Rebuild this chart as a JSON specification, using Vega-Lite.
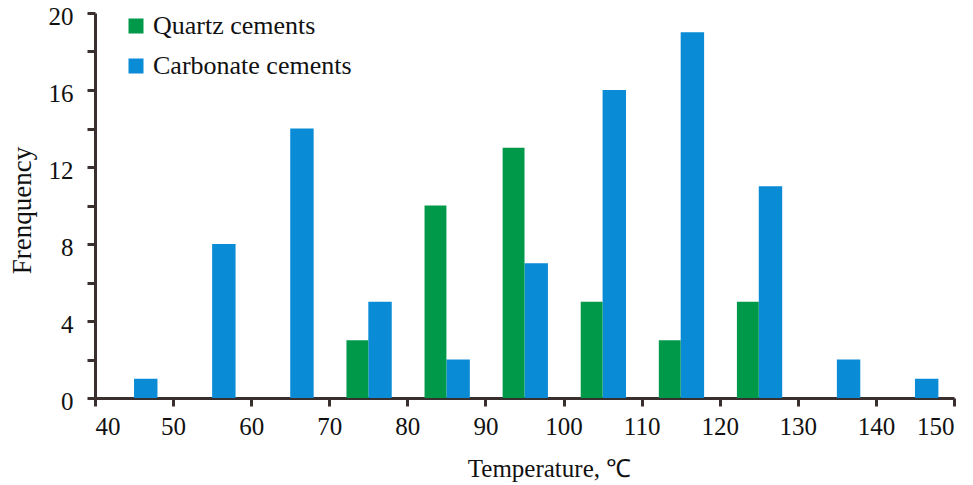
{
  "$schema": "https://vega.github.io/schema/vega-lite/v6.json",
  "autosize": {"type": "none"},
  "padding": {"left": 95, "top": 13, "right": 19, "bottom": 87},
  "width": 859,
  "height": 385,
  "background": "white",
  "data": {
    "values": [
      {"type": "Carbonate cements", "start": 45, "end": 48, "count": 1},
      {"type": "Carbonate cements", "start": 55, "end": 58, "count": 8},
      {"type": "Carbonate cements", "start": 65, "end": 68, "count": 14},
      {"type": "Carbonate cements", "start": 75, "end": 78, "count": 5},
      {"type": "Carbonate cements", "start": 85, "end": 88, "count": 2},
      {"type": "Carbonate cements", "start": 95, "end": 98, "count": 7},
      {"type": "Carbonate cements", "start": 105, "end": 108, "count": 16},
      {"type": "Carbonate cements", "start": 115, "end": 118, "count": 19},
      {"type": "Carbonate cements", "start": 125, "end": 128, "count": 11},
      {"type": "Carbonate cements", "start": 135, "end": 138, "count": 2},
      {"type": "Carbonate cements", "start": 145, "end": 148, "count": 1},
      {"type": "Quartz cements", "start": 72.2, "end": 75, "count": 3},
      {"type": "Quartz cements", "start": 82.2, "end": 85, "count": 10},
      {"type": "Quartz cements", "start": 92.2, "end": 95, "count": 13},
      {"type": "Quartz cements", "start": 102.2, "end": 105, "count": 5},
      {"type": "Quartz cements", "start": 112.2, "end": 115, "count": 3},
      {"type": "Quartz cements", "start": 122.2, "end": 125, "count": 5}
    ]
  },
  "mark": {"type": "bar", "stroke": null},
  "encoding": {
    "x": {
      "field": "start",
      "type": "quantitative",
      "scale": {"domain": [40, 150], "nice": false, "zero": false},
      "axis": {
        "values": [40, 50, 60, 70, 80, 90, 100, 110, 120, 130, 140, 150],
        "title": "Temperature, ℃",
        "titleX": 454,
        "titleY": 83,
        "titleFontSize": 25,
        "titleAlign": "center",
        "titleBaseline": "bottom",
        "titleAnchor": null
      }
    },
    "x2": {"field": "end"},
    "y": {
      "field": "count",
      "type": "quantitative",
      "scale": {"domain": [0, 20], "nice": false},
      "axis": {
        "values": [0, 2, 4, 6, 8, 10, 12, 14, 16, 18, 20],
        "labelExpr": "datum.value % 4 === 0 ? datum.label : ''",
        "title": "Frenquency",
        "titleX": -73,
        "titleY": 197,
        "titleFontSize": 27,
        "titleAngle": -90,
        "titleAlign": "center",
        "titleBaseline": "middle",
        "labelOffset": 3,
        "labelPadding": 14
      }
    },
    "y2": {"datum": 0},
    "color": {
      "field": "type",
      "type": "nominal",
      "scale": {
        "domain": ["Quartz cements", "Carbonate cements"],
        "range": ["#00994a", "#0a8bd6"]
      },
      "legend": {
        "title": null,
        "orient": "none",
        "legendX": 28,
        "legendY": 0,
        "padding": 0,
        "symbolType": "square",
        "symbolSize": 225,
        "symbolStrokeWidth": 0,
        "symbolOpacity": 1,
        "labelFont": "Liberation Serif, Times New Roman, serif",
        "labelFontSize": 26,
        "labelColor": "#111",
        "labelOffset": 4,
        "labelLimit": 500,
        "rowPadding": 14
      }
    }
  },
  "config": {
    "view": {"stroke": null},
    "axis": {
      "grid": false,
      "domainColor": "#3a2f2f",
      "domainWidth": 3,
      "tickColor": "#3a2f2f",
      "tickWidth": 3,
      "tickSize": 8,
      "labelFont": "Liberation Serif, Times New Roman, serif",
      "labelFontSize": 25,
      "labelColor": "#111",
      "titleFont": "Liberation Serif, Times New Roman, serif",
      "titleFontSize": 24,
      "titleFontWeight": "normal",
      "titleColor": "#111",
      "labelPadding": 8
    }
  }
}
